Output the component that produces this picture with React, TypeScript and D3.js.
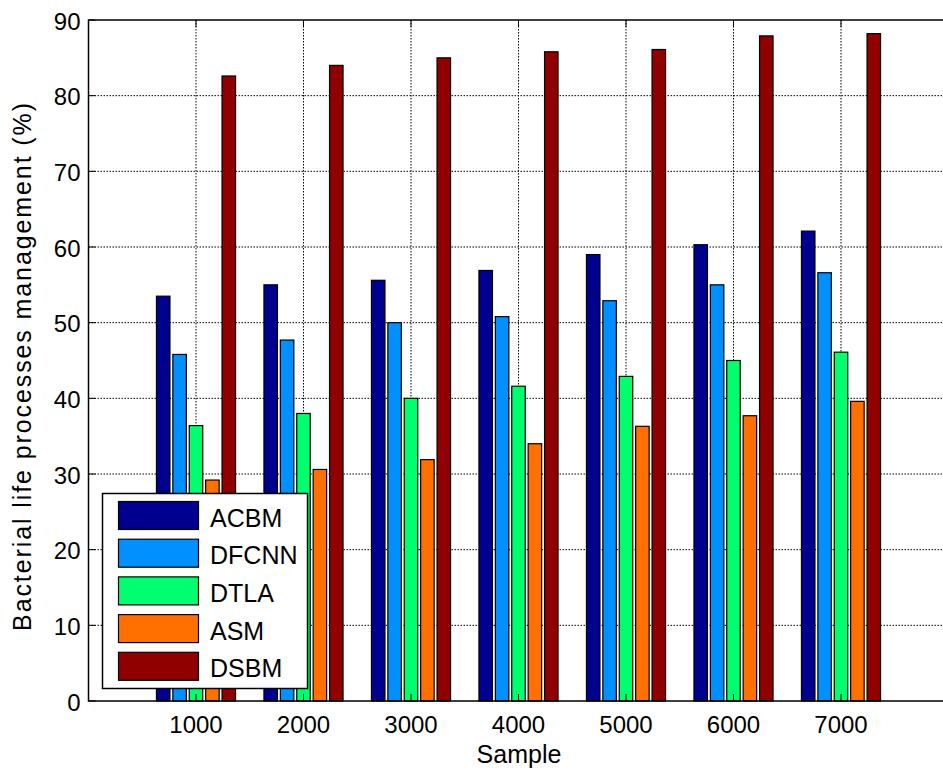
import React, { useEffect, useRef } from "react";
import * as d3 from "d3";

const samples = ["1000", "2000", "3000", "4000", "5000", "6000", "7000"];
const methods = ["ACBM", "DFCNN", "DTLA", "ASM", "DSBM"];
const colors = ["#00008F", "#0090FF", "#00FF6E", "#FF7000", "#900000"];

const acbm = [53.5, 55.0, 55.6, 56.9, 59.0, 60.3, 62.1];
const dfcnn = [45.8, 47.7, 50.0, 50.8, 52.9, 55.0, 56.6];
const dtla = [36.4, 38.0, 40.0, 41.6, 42.9, 45.0, 46.1];
const asm = [29.2, 30.6, 31.9, 34.0, 36.3, 37.7, 39.6];
const dsbm = [82.6, 84.0, 85.0, 85.8, 86.1, 87.9, 88.2];

const series = [acbm, dfcnn, dtla, asm, dsbm];
const yTicks = [0, 10, 20, 30, 40, 50, 60, 70, 80, 90];

const W = 943;
const H = 771;
const left = 88.5;
const top = 20;
const bottom = 701;
const font = "'Liberation Sans', Arial, Helvetica, sans-serif";

const App = () => {
  const svgRef = useRef<SVGSVGElement | null>(null);

  useEffect(() => {
    const svg = d3.select(svgRef.current);
    svg.selectAll("*").remove();

    // category positions 1..7 on a [0, 8] axis
    const x = d3.scaleLinear().domain([0, 8]).range([left, left + 8 * 107.5]);
    const y = d3.scaleLinear().domain([0, 90]).range([bottom, top]);
    const right = x(8);

    const g = svg.append("g");

    // grid
    g.append("g")
      .selectAll("line")
      .data(yTicks.slice(1, -1))
      .join("line")
      .attr("x1", left)
      .attr("x2", right)
      .attr("y1", (d) => y(d))
      .attr("y2", (d) => y(d))
      .attr("stroke", "#000")
      .attr("stroke-width", 1)
      .attr("stroke-dasharray", "1.5,1.5");

    g.append("g")
      .selectAll("line")
      .data(samples)
      .join("line")
      .attr("x1", (d, i) => x(i + 1))
      .attr("x2", (d, i) => x(i + 1))
      .attr("y1", top)
      .attr("y2", bottom)
      .attr("stroke", "#000")
      .attr("stroke-width", 1)
      .attr("stroke-dasharray", "1.5,1.5");

    // bars
    const step = 16.4 / 107.5;
    const bw = 13.5 / 107.5;
    series.forEach((vals, si) => {
      g.append("g")
        .selectAll("rect")
        .data(vals)
        .join("rect")
        .attr("x", (d, i) => x(i + 1 + (si - 2) * step - bw / 2))
        .attr("width", x(bw) - x(0))
        .attr("y", (d) => y(d))
        .attr("height", (d) => y(0) - y(d))
        .attr("fill", colors[si])
        .attr("stroke", "#000")
        .attr("stroke-width", 1.2);
    });

    // axes frame
    g.append("rect")
      .attr("x", left)
      .attr("y", top)
      .attr("width", right - left)
      .attr("height", bottom - top)
      .attr("fill", "none")
      .attr("stroke", "#000")
      .attr("stroke-width", 1.5);

    // tick marks (inside)
    const tl = 7;
    g.append("g")
      .selectAll("line")
      .data(yTicks)
      .join("line")
      .attr("x1", left)
      .attr("x2", left + tl)
      .attr("y1", (d) => y(d))
      .attr("y2", (d) => y(d))
      .attr("stroke", "#000");
    g.append("g")
      .selectAll("line")
      .data(samples)
      .join("line")
      .attr("x1", (d, i) => x(i + 1))
      .attr("x2", (d, i) => x(i + 1))
      .attr("y1", bottom)
      .attr("y2", bottom - tl)
      .attr("stroke", "#000");
    g.append("g")
      .selectAll("line")
      .data(samples)
      .join("line")
      .attr("x1", (d, i) => x(i + 1))
      .attr("x2", (d, i) => x(i + 1))
      .attr("y1", top)
      .attr("y2", top + tl)
      .attr("stroke", "#000");

    // tick labels
    g.append("g")
      .selectAll("text")
      .data(yTicks)
      .join("text")
      .attr("x", left - 8)
      .attr("y", (d) => y(d) + 9.5)
      .attr("text-anchor", "end")
      .attr("font-family", font)
      .attr("font-size", 24)
      .text((d) => d);

    g.append("g")
      .selectAll("text")
      .data(samples)
      .join("text")
      .attr("x", (d, i) => x(i + 1))
      .attr("y", 733)
      .attr("text-anchor", "middle")
      .attr("font-family", font)
      .attr("font-size", 24)
      .text((d) => d);

    // axis labels
    g.append("text")
      .attr("x", 519)
      .attr("y", 763)
      .attr("text-anchor", "middle")
      .attr("font-family", font)
      .attr("font-size", 25)
      .text("Sample");

    g.append("text")
      .attr("transform", `translate(31, 366) rotate(-90)`)
      .attr("text-anchor", "middle")
      .attr("font-family", font)
      .attr("font-size", 25)
      .attr("letter-spacing", 1.9)
      .text("Bacterial life processes management (%)");

    // legend
    const lg = g.append("g").attr("transform", "translate(102.5, 493.5)");
    lg.append("rect")
      .attr("width", 205)
      .attr("height", 195)
      .attr("fill", "#fff")
      .attr("stroke", "#000")
      .attr("stroke-width", 1.5);
    methods.forEach((m, i) => {
      lg.append("rect")
        .attr("x", 16)
        .attr("y", 8 + i * 37.7)
        .attr("width", 80)
        .attr("height", 28)
        .attr("fill", colors[i])
        .attr("stroke", "#000")
        .attr("stroke-width", 1.2);
      lg.append("text")
        .attr("x", 107.5)
        .attr("y", 33 + i * 37.7)
        .attr("font-family", font)
        .attr("font-size", 25)
        .text(m);
    });
  }, []);

  return (
    <div style={{ position: "absolute", left: 0, top: 0 }}>
      <svg ref={svgRef} width={W} height={H} style={{ display: "block", background: "#fff" }} />
    </div>
  );
};

export default App;
